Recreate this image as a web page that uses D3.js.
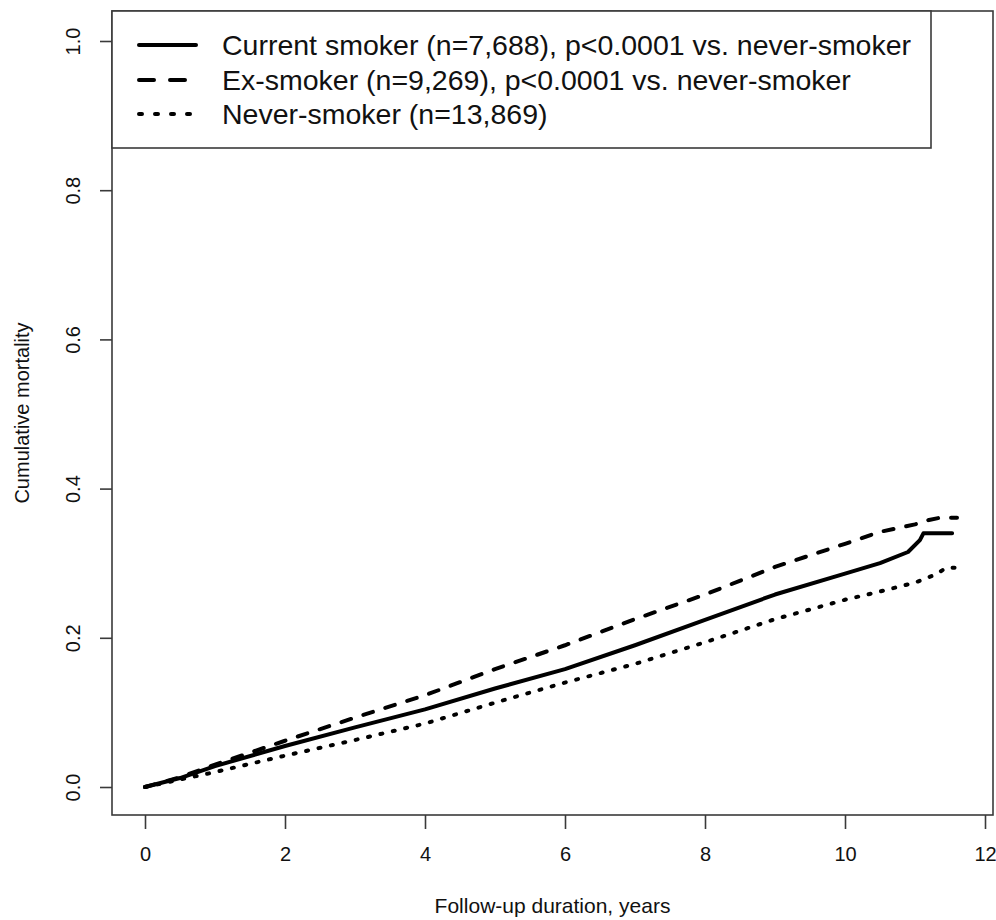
<!DOCTYPE html>
<html>
<head>
<meta charset="utf-8">
<script src="https://cdn.jsdelivr.net/npm/d3@7"></script>
<style>
  body { margin: 0; background: #fff; }
  text { font-family: "Liberation Sans", Arial, sans-serif; fill: #111; }
</style>
</head>
<body>
<script>
// follow-up years and cumulative mortality
const currentTime = [0, 0.5, 1, 2, 3, 4, 5, 6, 7, 8, 9, 10, 10.5, 10.9, 11.07, 11.12, 11.53];
const currentMort = [0, 0.012, 0.028, 0.055, 0.08, 0.104, 0.132, 0.158, 0.19, 0.224, 0.258, 0.286, 0.3, 0.315, 0.331, 0.34, 0.34];

const exTime = [0, 0.5, 1, 2, 3, 4, 5, 6, 7, 8, 9, 10, 10.5, 11, 11.2, 11.36, 11.6];
const exMort = [0, 0.013, 0.03, 0.062, 0.093, 0.123, 0.158, 0.19, 0.225, 0.258, 0.295, 0.326, 0.342, 0.352, 0.358, 0.361, 0.361];

const neverTime = [0, 0.5, 1, 2, 3, 4, 5, 6, 7, 8, 9, 10, 10.5, 11, 11.3, 11.45, 11.69];
const neverMort = [0, 0.01, 0.02, 0.042, 0.063, 0.085, 0.113, 0.14, 0.165, 0.194, 0.225, 0.251, 0.262, 0.274, 0.285, 0.294, 0.294];

const xTicks = [0, 2, 4, 6, 8, 10, 12];
const yTicks = [0, 0.2, 0.4, 0.6, 0.8, 1.0];

const legendLabels = [
  "Current smoker (n=7,688), p<0.0001 vs. never-smoker",
  "Ex-smoker (n=9,269), p<0.0001 vs. never-smoker",
  "Never-smoker (n=13,869)"
];

const width = 996, height = 920;
const box = { left: 112, right: 993, top: 11, bottom: 815 };

const x = d3.scaleLinear().domain([0, 12]).range([145, 985]);
const y = d3.scaleLinear().domain([0, 1]).range([787, 41]);

const svg = d3.select("body").append("svg")
  .attr("width", width)
  .attr("height", height);

const axisColor = "#3a3a3a";

// plot frame
svg.append("rect")
  .attr("x", box.left).attr("y", box.top)
  .attr("width", box.right - box.left).attr("height", box.bottom - box.top)
  .attr("fill", "none").attr("stroke", axisColor).attr("stroke-width", 1.6);

// x axis (ticks hang below the frame)
const xAxis = svg.append("g")
  .attr("transform", `translate(0,${box.bottom})`)
  .call(d3.axisBottom(x).tickValues(xTicks).tickSize(14).tickSizeOuter(0).tickPadding(18).tickFormat(d3.format("d")));
xAxis.select(".domain").remove();
xAxis.selectAll(".tick line").attr("stroke", axisColor).attr("stroke-width", 1.6);
xAxis.selectAll(".tick text").attr("font-size", 20).attr("fill", "#111")
  .attr("font-family", "Liberation Sans, Arial, sans-serif");

// y axis with rotated labels
const yAxis = svg.append("g")
  .attr("transform", `translate(${box.left},0)`)
  .call(d3.axisLeft(y).tickValues(yTicks).tickSize(12).tickSizeOuter(0).tickFormat(d3.format(".1f")));
yAxis.select(".domain").remove();
yAxis.selectAll(".tick line").attr("stroke", axisColor).attr("stroke-width", 1.6);
yAxis.selectAll(".tick text")
  .attr("font-size", 20).attr("fill", "#111")
  .attr("font-family", "Liberation Sans, Arial, sans-serif")
  .attr("text-anchor", "middle")
  .attr("dy", null)
  .attr("x", null)
  .attr("transform", "translate(-32,0) rotate(-90)");

// axis titles
svg.append("text")
  .attr("x", (box.left + box.right) / 2).attr("y", 913)
  .attr("text-anchor", "middle").attr("font-size", 21)
  .text("Follow-up duration, years");

svg.append("text")
  .attr("transform", `translate(29,${(box.top + box.bottom) / 2}) rotate(-90)`)
  .attr("text-anchor", "middle").attr("font-size", 20)
  .text("Cumulative mortality");

// curves
const series = [
  { t: currentTime, m: currentMort, dash: null, legendDash: null },
  { t: exTime, m: exMort, dash: "10 13", legendDash: "15 16" },
  { t: neverTime, m: neverMort, dash: "2 10.7", legendDash: "3 13" }
];

const line = d3.line()
  .x(d => x(d[0]))
  .y(d => y(d[1]));

svg.append("g").selectAll("path")
  .data(series)
  .join("path")
  .attr("d", s => line(s.t.map((t, i) => [t, s.m[i]])))
  .attr("fill", "none")
  .attr("stroke", "#000")
  .attr("stroke-width", 4)
  .attr("stroke-linecap", "round")
  .attr("stroke-linejoin", "round")
  .attr("stroke-dasharray", s => s.dash);

// legend
const legend = svg.append("g");
legend.append("rect")
  .attr("x", box.left).attr("y", box.top)
  .attr("width", 931 - box.left).attr("height", 148 - box.top)
  .attr("fill", "#fff").attr("stroke", axisColor).attr("stroke-width", 1.6);

const rowY = [45, 80, 114];
legend.selectAll("line.key")
  .data(series)
  .join("line")
  .attr("class", "key")
  .attr("x1", 139).attr("x2", 196)
  .attr("y1", (d, i) => rowY[i]).attr("y2", (d, i) => rowY[i])
  .attr("stroke", "#000").attr("stroke-width", 4)
  .attr("stroke-linecap", "round")
  .attr("stroke-dasharray", d => d.legendDash);

legend.selectAll("text")
  .data(legendLabels)
  .join("text")
  .attr("x", 222)
  .attr("y", (d, i) => rowY[i] + 10)
  .attr("font-size", 28.5)
  .text(d => d);
</script>
</body>
</html>
